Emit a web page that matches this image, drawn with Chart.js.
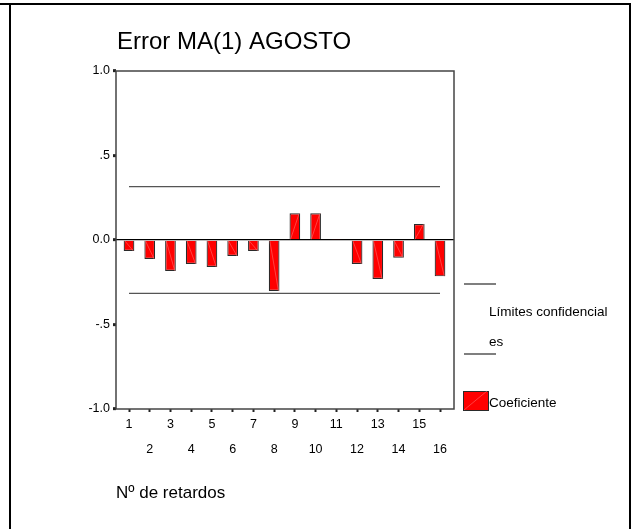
<!DOCTYPE html>
<html>
<head>
<meta charset="utf-8">
<script src="https://cdn.jsdelivr.net/npm/chart.js@4.4.0/dist/chart.umd.min.js"></script>
<style>
  html, body { margin: 0; padding: 0; background: #fff; }
  canvas { display: block; }
</style>
</head>
<body>
<canvas id="acf" width="637" height="529"></canvas>
<script>
// Autocorrelation of the MA(1) residuals, August
const TITLE = 'Error MA(1) AGOSTO';
const X_TITLE = 'Nº de retardos';
const LAGS = [1, 2, 3, 4, 5, 6, 7, 8, 9, 10, 11, 12, 13, 14, 15, 16];
const ACF = [-0.065, -0.112, -0.183, -0.142, -0.160, -0.095, -0.065, -0.302,
             0.158, 0.158, 0.003, -0.142, -0.231, -0.105, 0.095, -0.215];
const CONF_LAGS = [1, 16];
const CONF_UPPER = [0.316, 0.316];
const CONF_LOWER = [-0.316, -0.316];
const Y_TICKS = [-1, -0.5, 0, 0.5, 1];
const Y_TICK_LABELS = ['-1.0', '-.5', '0.0', '.5', '1.0'];
const LEGEND_LIMITS = ['Límites confidencial', 'es'];
const LEGEND_COEF = 'Coeficiente';

const FONT = '"Liberation Sans", Arial, sans-serif';
const BAR_RED = '#ff0000';
const BAR_EDGE = '#2a2a2a';
const LIMIT_GREY = '#555555';

// diagonal highlight stroke inside a bar rectangle
function barStripe(ctx, left, yStart, right, yEnd) {
  ctx.save();
  ctx.strokeStyle = 'rgba(255,120,120,0.75)';
  ctx.lineWidth = 0.7;
  ctx.beginPath();
  ctx.moveTo(left + 1, yStart);
  ctx.lineTo(right - 1, yEnd);
  ctx.stroke();
  ctx.restore();
}

const decorations = {
  id: 'decorations',
  beforeDraw(chart) {
    const ctx = chart.ctx;
    ctx.save();
    ctx.fillStyle = '#fff';
    ctx.fillRect(0, 0, chart.width, chart.height);
    // outer frame: top, left and right edges
    ctx.strokeStyle = '#000';
    ctx.lineWidth = 2;
    ctx.beginPath();
    ctx.moveTo(0, 4); ctx.lineTo(631, 4);
    ctx.moveTo(10, 4); ctx.lineTo(10, chart.height);
    ctx.moveTo(630, 4); ctx.lineTo(630, chart.height);
    ctx.stroke();
    ctx.restore();
  },
  beforeDatasetsDraw(chart) {
    const {ctx, chartArea: a} = chart;
    ctx.save();
    ctx.strokeStyle = '#444';
    ctx.lineWidth = 1.5;
    ctx.strokeRect(a.left, a.top, a.right - a.left, a.bottom - a.top);
    ctx.restore();
  },
  afterDatasetsDraw(chart) {
    const meta = chart.getDatasetMeta(0);
    meta.data.forEach(bar => {
      const p = bar.getProps(['x', 'y', 'base', 'width'], true);
      if (Math.abs(p.base - p.y) < 2) return;
      barStripe(chart.ctx, p.x - p.width / 2, p.base, p.x + p.width / 2, p.y);
    });
  },
  afterDraw(chart) {
    const ctx = chart.ctx;
    ctx.save();
    // chart title
    ctx.fillStyle = '#000';
    ctx.textBaseline = 'alphabetic';
    ctx.textAlign = 'left';
    ctx.font = '24px ' + FONT;
    ctx.fillText(TITLE, 117, 49);

    // legend
    ctx.strokeStyle = LIMIT_GREY;
    ctx.lineWidth = 1.3;
    ctx.beginPath();
    ctx.moveTo(464, 284); ctx.lineTo(496, 284);
    ctx.moveTo(464, 354); ctx.lineTo(496, 354);
    ctx.stroke();
    ctx.font = '13.5px ' + FONT;
    ctx.textBaseline = 'middle';
    ctx.fillText(LEGEND_LIMITS[0], 489, 312);
    ctx.fillText(LEGEND_LIMITS[1], 489, 342);
    ctx.fillStyle = BAR_RED;
    ctx.fillRect(463, 391, 25, 19);
    ctx.strokeStyle = BAR_EDGE;
    ctx.lineWidth = 1;
    ctx.strokeRect(463.5, 391.5, 25, 19);
    barStripe(ctx, 463, 410, 488, 391);
    ctx.fillStyle = '#000';
    ctx.fillText(LEGEND_COEF, 489, 403);
    ctx.restore();
  }
};

new Chart(document.getElementById('acf'), {
  type: 'bar',
  data: {
    datasets: [
      {
        label: LEGEND_COEF,
        data: LAGS.map((lag, i) => ({x: lag, y: ACF[i]})),
        backgroundColor: BAR_RED,
        borderColor: BAR_EDGE,
        borderWidth: 1.2,
        barPercentage: 0.516,
        categoryPercentage: 1,
        order: 2
      },
      {
        type: 'line',
        label: LEGEND_LIMITS.join(''),
        data: CONF_LAGS.map((lag, i) => ({x: lag, y: CONF_UPPER[i]})),
        borderColor: LIMIT_GREY,
        borderWidth: 1.3,
        pointRadius: 0,
        fill: false,
        order: 1
      },
      {
        type: 'line',
        label: LEGEND_LIMITS.join('') + ' ',
        data: CONF_LAGS.map((lag, i) => ({x: lag, y: CONF_LOWER[i]})),
        borderColor: LIMIT_GREY,
        borderWidth: 1.3,
        pointRadius: 0,
        fill: false,
        order: 1
      }
    ]
  },
  options: {
    responsive: false,
    animation: false,
    devicePixelRatio: 1,
    layout: { padding: { left: 0, top: 71, right: 183, bottom: 0 } },
    plugins: {
      legend: { display: false },
      tooltip: { enabled: false },
      title: { display: false }
    },
    scales: {
      x: {
        type: 'linear',
        min: 0.373,
        max: 16.675,
        offset: false,
        afterBuildTicks: s => { s.ticks = LAGS.map(v => ({value: v})); },
        afterFit: s => { s.height = 120; },
        grid: {
          display: true,
          offset: false,
          drawOnChartArea: false,
          drawTicks: true,
          tickLength: 3,
          tickWidth: 2,
          tickColor: '#222'
        },
        border: { display: false },
        ticks: {
          autoSkip: false,
          maxRotation: 0,
          minRotation: 0,
          padding: 0,
          color: '#000',
          font: { family: FONT, size: 12.5, lineHeight: '25px' },
          callback: v => {
            const i = LAGS.indexOf(v);
            return i % 2 === 0 ? String(v) : ['', String(v)];
          }
        },
        title: {
          display: true,
          text: X_TITLE,
          align: 'start',
          color: '#000',
          font: { family: FONT, size: 17 },
          padding: { top: 0, bottom: 25 }
        }
      },
      y: {
        min: -1,
        max: 1,
        afterBuildTicks: s => { s.ticks = Y_TICKS.map(v => ({value: v})); },
        afterFit: s => { s.width = 116; },
        grid: {
          drawOnChartArea: true,
          color: c => (c.tick && c.tick.value === 0) ? '#000' : 'rgba(0,0,0,0)',
          lineWidth: 1.3,
          drawTicks: true,
          tickLength: 3,
          tickWidth: 3,
          tickColor: '#222'
        },
        border: { display: false },
        ticks: {
          padding: 3,
          color: '#000',
          font: { family: FONT, size: 12.5 },
          callback: v => Y_TICK_LABELS[Y_TICKS.indexOf(v)]
        }
      }
    }
  },
  plugins: [decorations]
});
</script>
</body>
</html>
